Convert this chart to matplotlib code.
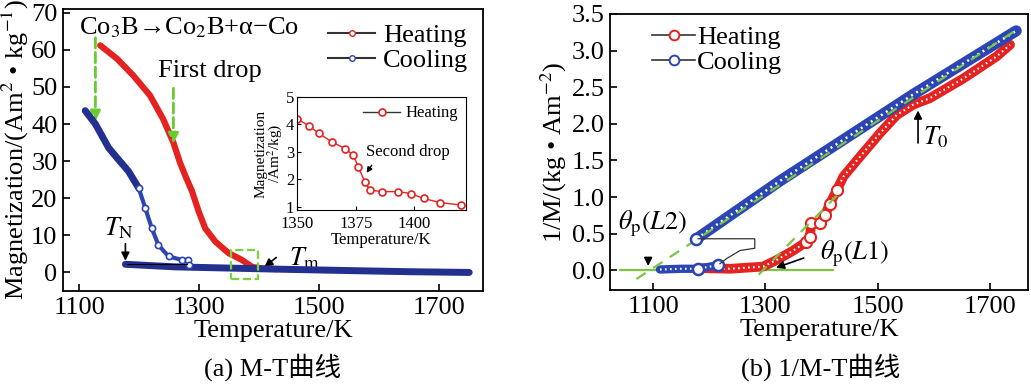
import numpy as np
import matplotlib
matplotlib.use("Agg")
import matplotlib.pyplot as plt
from matplotlib.patches import Rectangle

plt.rcParams['font.family'] = ['Liberation Serif', 'Noto Sans CJK SC', 'DejaVu Sans']
plt.rcParams['mathtext.fontset'] = 'stix'

RED = "#e42320"
NAVY = "#243090"
BLUE = "#2c45b5"
GREEN = "#7cc444"

# ---- (a) M-T data ----
heat_T = [1135, 1163, 1190, 1218, 1240, 1257, 1268, 1277, 1288, 1299, 1310, 1327, 1349, 1371, 1388, 1404, 1430]
heat_M = [61.2, 57.6, 53.1, 47.7, 41.3, 35.0, 29.6, 26.0, 21.9, 16.5, 11.9, 8.3, 5.2, 3.4, 1.5, 1.1, 0.9]

cool_T = [1110, 1127, 1149, 1165, 1182, 1199, 1210, 1221, 1232, 1249, 1271, 1282, 1283]
cool_M = [43.6, 40.0, 33.6, 30.5, 27.3, 22.8, 17.4, 11.9, 7.4, 4.3, 3.4, 3.4, 2.0]
cool_low_T = [1177, 1260, 1427, 1550, 1650, 1750]
cool_low_M = [2.2, 1.5, 0.9, 0.5, 0.2, 0.0]

# inset (heating, zoomed)
ins_T = [1350, 1355, 1359.4, 1364.9, 1370.5, 1374, 1376.1, 1378.9, 1381, 1386, 1393, 1398.5, 1404, 1411, 1420]
ins_M = [4.21, 3.95, 3.67, 3.36, 3.12, 2.88, 2.45, 1.91, 1.61, 1.55, 1.55, 1.48, 1.30, 1.15, 1.06]

# ---- (b) 1/M-T data ----
heat2_T = [1180, 1237, 1296, 1320, 1350, 1373, 1379, 1382, 1397, 1406, 1415, 1427,
           1439, 1474, 1504, 1534, 1563, 1593, 1653, 1712, 1736]
heat2_V = [0.03, 0.02, 0.05, 0.14, 0.27, 0.39, 0.46, 0.64, 0.64, 0.75, 0.91, 1.09,
           1.28, 1.60, 1.87, 2.12, 2.26, 2.35, 2.62, 2.92, 3.08]
cool2_T = [1177, 1326, 1563, 1747]
cool2_V = [0.43, 1.22, 2.40, 3.27]
cool2_low_T = [1112, 1150, 1180, 1216]
cool2_low_V = [0.01, 0.02, 0.02, 0.07]
link_T = [1180, 1281, 1281, 1255, 1231, 1219]
link_V = [0.43, 0.43, 0.30, 0.27, 0.16, 0.09]

fig = plt.figure(figsize=(10.31, 3.84), dpi=100)
FS = 19
FSI = 12

# ================= panel (a) =================
ax1 = fig.add_axes([63 / 1031, 1 - 291 / 384, 420 / 1031, 282 / 384])
ax1.plot(heat_T, heat_M, color=RED, lw=4.5, solid_capstyle='round', zorder=3)
ax1.plot(cool_low_T, cool_low_M, color=NAVY, lw=5, solid_capstyle='round', zorder=4)
ax1.plot(cool_T[:6], cool_M[:6], color=NAVY, lw=5, solid_capstyle='round', zorder=4)
ax1.plot(cool_T[5:], cool_M[5:], color=BLUE, lw=3, zorder=4, marker='o', ms=4.5,
         mfc='white', mec=BLUE, mew=1.2)
ax1.plot([1180, 1280], [2.3, 2.3], color='k', lw=0.8, zorder=5)
ax1.plot([], [], color='#333333', lw=1.5, marker='o', ms=4, mfc='white', mec=RED, label='Heating')
ax1.plot([], [], color='#333333', lw=1.5, marker='o', ms=4, mfc='white', mec=BLUE, label='Cooling')
ax1.set_xlim(1073, 1773)
ax1.set_ylim(-5, 71)
ax1.set_xticks([1100, 1300, 1500, 1700])
ax1.set_yticks(range(0, 71, 10))
ax1.set_xlabel('Temperature/K', fontsize=FS, labelpad=1)
ax1.set_ylabel('Magnetization/(Am$^2$ • kg$^{-1}$)', fontsize=FS, labelpad=0)
ax1.tick_params(labelsize=FS, direction='in', length=5, width=1.2, pad=4)
for s in ax1.spines.values():
    s.set_linewidth(1.3)
ax1.legend(loc='upper right', fontsize=FS, frameon=False, handlelength=1.8,
           handletextpad=0.3, borderaxespad=0.15, labelspacing=0.05)

ax1.text(1100, 66, 'Co$_3$B→Co$_2$B+α−Co', fontsize=FS, va='center', ha='left')
ax1.text(1232, 54.4, 'First drop', fontsize=FS, va='center', ha='left')
ax1.annotate('', xy=(1127, 40), xytext=(1127, 64),
             arrowprops=dict(arrowstyle='-|>', color='#6acb30', lw=2, ls='--', mutation_scale=15))
ax1.annotate('', xy=(1257, 34), xytext=(1257, 50.4),
             arrowprops=dict(arrowstyle='-|>', color='#6acb30', lw=2, ls='--', mutation_scale=15))
ax1.annotate('', xy=(1177, 2.4), xytext=(1177, 8.5),
             arrowprops=dict(arrowstyle='-|>', color='k', lw=1.2, mutation_scale=12))
ax1.text(1167, 11.9, '$T_{\\rm N}$', fontsize=FS, ha='center', va='center')
ax1.annotate('', xy=(1405, 1.0), xytext=(1432, 4.5),
             arrowprops=dict(arrowstyle='-|>', color='k', lw=1.2, mutation_scale=12))
ax1.text(1450, 3.9, '$T_{\\rm m}$', fontsize=FS, ha='left', va='center')
ax1.add_patch(Rectangle((1353, -1.7), 45, 7.8, fill=False, ec='#7dd13a', lw=1.6, ls='--', zorder=6))

# inset
axi = fig.add_axes([297 / 1031, 1 - 210 / 384, 169 / 1031, 113 / 384])
axi.plot(ins_T, ins_M, color=RED, lw=1, marker='o', ms=5, mfc='white', mec=RED, mew=1.2,
         label='Heating')
axi.set_xlim(1350, 1422)
axi.set_ylim(0.88, 5)
axi.set_xticks([1350, 1375, 1400])
axi.set_yticks([1, 2, 3, 4, 5])
axi.tick_params(labelsize=FSI, direction='in', length=3, pad=2)
axi.tick_params(axis='x', pad=4)
axi.set_xlabel('Temperature/K', fontsize=FSI, labelpad=0.5)
axi.set_ylabel('Magnetization\n/Am$^2$/kg)', fontsize=11, labelpad=1, linespacing=0.85)
axi.text(1379.5, 3.0, 'Second drop', fontsize=FSI, ha='left', va='center')
axi.annotate('', xy=(1379, 2.15), xytext=(1382.5, 2.6),
             arrowprops=dict(arrowstyle='-|>', color='k', lw=1, mutation_scale=8))
leg = axi.legend(loc='upper right', fontsize=FSI, frameon=False, handlelength=2.2,
                 handletextpad=0.3, borderaxespad=0.1)
leg.get_lines()[0].set_color('#333333')

fig.text(273 / 1031, 1 - 367 / 384, '(a) M-T曲线', fontsize=FS, ha='center', va='center')

# ================= panel (b) =================
ax2 = fig.add_axes([610 / 1031, 1 - 290 / 384, 418 / 1031, 276 / 384])
ax2.plot([1040, 1420], [0, 0], color=GREEN, lw=1.6, zorder=2)
# heating: dense open circles drawn as a ringed band
ax2.plot(heat2_T, heat2_V, color=RED, lw=7, solid_capstyle='round', zorder=3)
ax2.plot(heat2_T, heat2_V, color='white', lw=1.5, ls=(0, (0.8, 1.6)), zorder=3)
ax2.plot(heat2_T[5:12], heat2_V[5:12], ls='none', marker='o', ms=8, mfc='white', mec=RED,
         mew=1.5, zorder=3)
ax2.plot(cool2_T, cool2_V, color=BLUE, lw=8, solid_capstyle='round', zorder=4)
ax2.plot(cool2_T, cool2_V, color='white', lw=1.8, ls=(0, (0.8, 1.6)), zorder=4)
ax2.plot(cool2_low_T, cool2_low_V, color=BLUE, lw=6, solid_capstyle='round', zorder=4)
ax2.plot(cool2_low_T, cool2_low_V, color='white', lw=1.5, ls=(0, (0.8, 1.6)), zorder=4)
ax2.plot([cool2_T[0], cool2_low_T[2], cool2_low_T[3]], [cool2_V[0], cool2_low_V[2], cool2_low_V[3]],
         ls='none', marker='o', ms=8, mfc='white', mec=BLUE, mew=1.8, zorder=6)
ax2.plot([1070, 1747], [-0.12, 3.28], color=GREEN, lw=1.6, ls=(0, (5, 4)), zorder=5)
ax2.plot([1288, 1430], [-0.06, 1.04], color=GREEN, lw=1.6, ls=(0, (5, 4)), zorder=5)
ax2.plot(link_T, link_V, color='#333333', lw=0.9, zorder=6)
ax2.plot([], [], color='#333333', lw=1.2, marker='o', ms=7, mfc='white', mec=RED, mew=1.4,
         label='Heating')
ax2.plot([], [], color='#333333', lw=1.2, marker='o', ms=7, mfc='white', mec=BLUE, mew=1.4,
         label='Cooling')
ax2.set_xlim(1023, 1768)
ax2.set_ylim(-0.27, 3.5)
ax2.set_xticks([1100, 1300, 1500, 1700])
ax2.set_yticks(np.arange(0, 3.51, 0.5))
ax2.yaxis.set_major_formatter(matplotlib.ticker.FormatStrFormatter('%.1f'))
ax2.set_xlabel('Temperature/K', fontsize=FS, labelpad=1)
ax2.set_ylabel('1/M/(kg • Am$^{-2}$)', fontsize=FS, labelpad=2)
ax2.tick_params(labelsize=FS, direction='in', length=5, width=1.2, pad=4)
for s in ax2.spines.values():
    s.set_linewidth(1.3)
ax2.legend(loc='upper left', bbox_to_anchor=(0.07, 1.005), fontsize=FS, frameon=False,
           handlelength=1.6, handletextpad=0.1, borderaxespad=0.1, labelspacing=0.05)

ax2.annotate('', xy=(1091, 0.02), xytext=(1091, 0.17),
             arrowprops=dict(arrowstyle='-|>', color='k', lw=1.2, mutation_scale=12))
ax2.text(1038, 0.64, '$\\theta_{\\rm p}(L2)$', fontsize=FS, ha='left', va='center')
ax2.annotate('', xy=(1314, 0.02), xytext=(1373, 0.18),
             arrowprops=dict(arrowstyle='-|>', color='k', lw=1.2, mutation_scale=12))
ax2.text(1397, 0.23, '$\\theta_{\\rm p}(L1)$', fontsize=FS, ha='left', va='center')
ax2.annotate('', xy=(1572, 2.22), xytext=(1572, 1.7),
             arrowprops=dict(arrowstyle='-|>', color='k', lw=1.2, mutation_scale=12))
ax2.text(1580, 1.82, '$T_0$', fontsize=FS, ha='left', va='center')

fig.text(821 / 1031, 1 - 367 / 384, '(b) 1/M-T曲线', fontsize=FS, ha='center', va='center')

plt.savefig('out.png', dpi=100)
